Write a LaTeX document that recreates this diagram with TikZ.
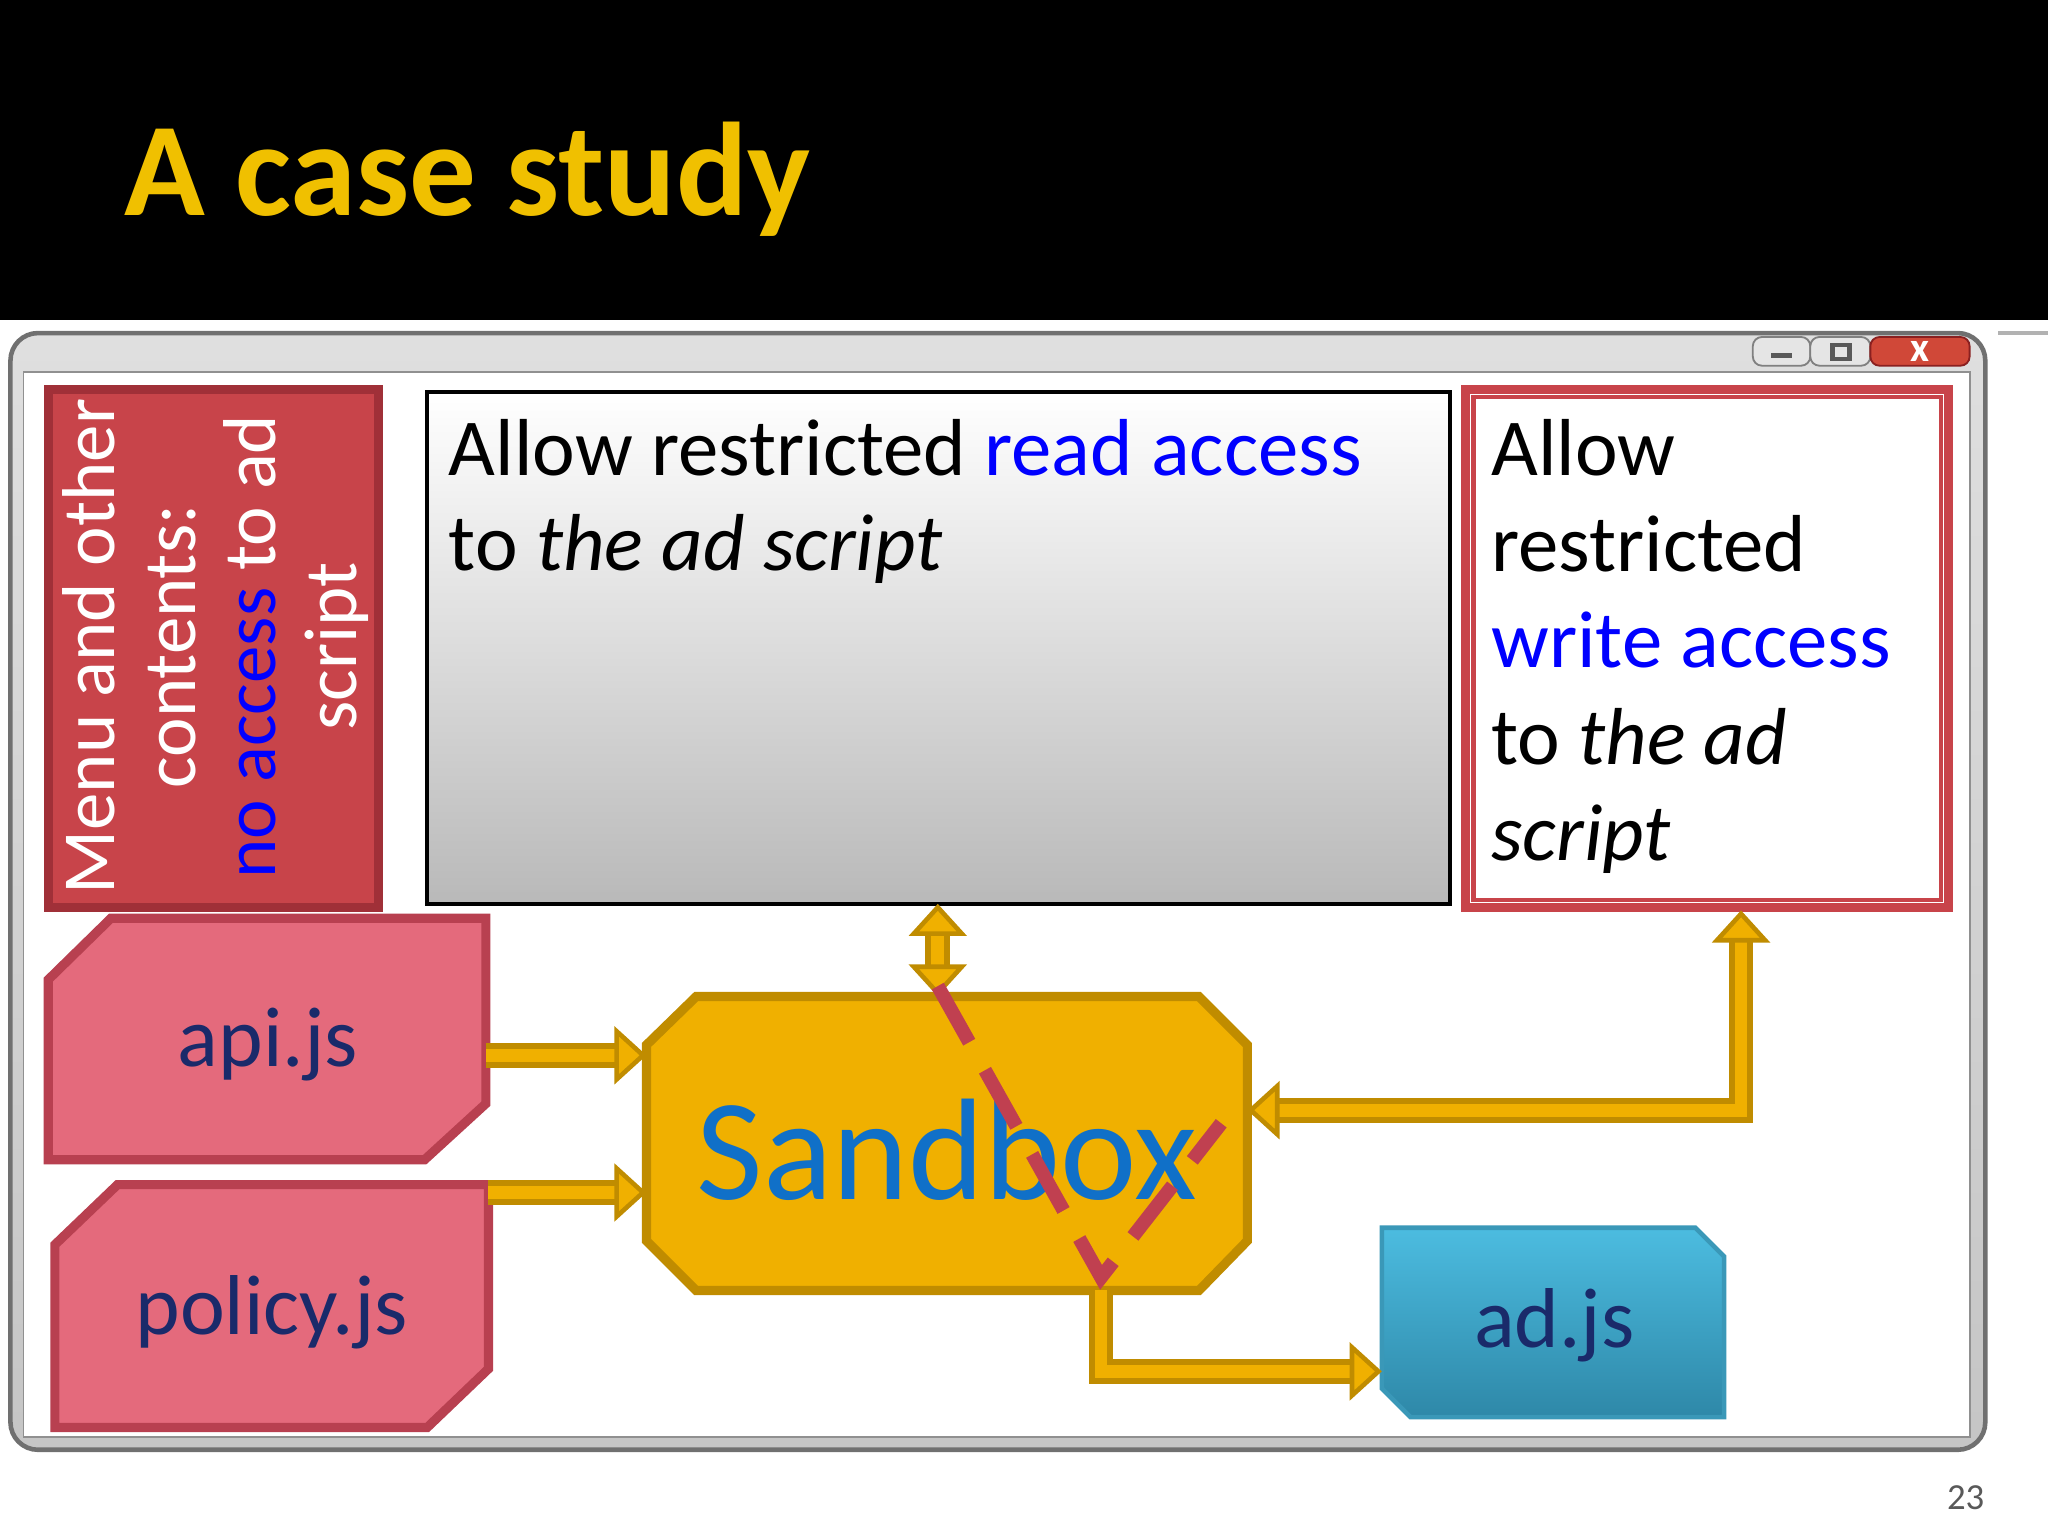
\documentclass[tikz,border=0pt]{standalone}
\usepackage{fontspec}
\setmainfont{Carlito}
\usetikzlibrary{arrows.meta}
\definecolor{gold}{HTML}{F0B000}
\definecolor{golddk}{HTML}{C08C00}
\definecolor{redbox}{HTML}{C8444A}
\definecolor{reddk}{HTML}{A03038}
\definecolor{pinkbox}{HTML}{E46A7C}
\definecolor{pinkdk}{HTML}{B84050}
\definecolor{navy}{HTML}{1A2A6A}
\definecolor{sblue}{HTML}{1070C8}
\definecolor{titley}{HTML}{F0C000}
\definecolor{frame}{HTML}{707070}
\definecolor{inner}{HTML}{909090}
\definecolor{closedk}{HTML}{8A2020}
\definecolor{closebg}{HTML}{D04838}
\definecolor{adb}{HTML}{3A98B8}
\definecolor{adt}{HTML}{4CBCE0}
\definecolor{adbt}{HTML}{2E88A8}
\definecolor{dashred}{HTML}{C04050}
\begin{document}
\begin{tikzpicture}[x=0.01cm,y=-0.01cm,
  tip/.tip={Triangle[length=7pt,width=12.5pt,fill=gold,line width=1pt]},
  garrow/.style={draw=golddk,line width=1.3pt,double=gold,double distance=2.8pt,tip-tip},
  sarrow/.style={draw=golddk,line width=1.3pt,double=gold,double distance=2.8pt,-tip},
  btxt/.style={font=\fontsize{17.6}{20.8}\selectfont,align=left,anchor=north west,inner sep=0},
  ftxt/.style={font=\fontsize{18.5}{22}\selectfont,text=navy}]
\useasboundingbox (0,0) rectangle (1568,1176);
\fill[white] (0,0) rectangle (1568,1176);
\fill[black] (0,0) rectangle (1568,245);
\node[anchor=base west,inner sep=0,text=titley,font=\bfseries\fontsize{29}{30}\selectfont] (title) at (95,165) {A case study};
% window
\draw[frame,line width=1pt,top color=gray!25,bottom color=gray!45,rounded corners=6] (8,255) rectangle (1520,1110);
\draw[inner,fill=white] (18,285) rectangle (1508,1100);
\draw[gray!60,line width=1pt] (1530,255) -- (1568,255);
\draw[gray,fill=gray!20,rounded corners=2] (1342,258) rectangle (1386,280);
\draw[gray,fill=gray!20,rounded corners=2] (1386,258) rectangle (1432,280);
\draw[closedk,fill=closebg,rounded corners=2] (1432,258) rectangle (1508,280);
\draw[gray!70!black,line width=1.2pt] (1356,272) -- (1372,272);
\draw[gray!70!black,line width=1pt] (1403,264) rectangle (1416,275);
\node[text=white,font=\bfseries\fontsize{9}{9}\selectfont,inner sep=0] (xb) at (1470,269) {x};
% red box
\draw[reddk,line width=2pt,fill=redbox] (37,298) rectangle (290,695);
\node[rotate=90,align=center,text=white,font=\fontsize{16.3}{17.6}\selectfont,inner sep=0] (menu) at (165,495)
 {Menu and other\\contents:\\\textcolor{blue}{no access} to ad\\script};
% gray box
\draw[black,line width=1pt,top color=white,bottom color=gray!55] (327,300) rectangle (1110,692);
\coordinate (gb) at (718,692);
\node[btxt] (rd) at (343,320) {Allow restricted \textcolor{blue}{read access}\\to \textit{the ad script}};
% right box
\draw[redbox,line width=2pt,fill=white] (1122,298) rectangle (1492,695);
\draw[redbox,line width=1pt] (1128,304) rectangle (1486,689);
\coordinate (rb) at (1333,697);
\node[btxt,font=\fontsize{17.6}{21}\selectfont] (wr) at (1141,320) {Allow\\restricted\\\textcolor{blue}{write access}\\to \textit{the ad}\\\textit{script}};
% api
\draw[pinkdk,line width=2pt,fill=pinkbox] (85,703) -- (372,703) -- (372,845) -- (325,888) -- (37,888) -- (37,750) -- cycle;
\node[ftxt] (api) at (205,800) {api.js};
\coordinate (apir) at (372,808);
\draw[pinkdk,line width=2pt,fill=pinkbox] (90,907) -- (374,907) -- (374,1048) -- (327,1093) -- (42,1093) -- (42,953) -- cycle;
\node[ftxt] (pol) at (208,1005) {policy.js};
\coordinate (polr) at (374,913);
% sandbox
\draw[golddk,line width=2pt,fill=gold] (533,763) -- (918,763) -- (955,800) -- (955,950) -- (918,988) -- (533,988) -- (495,950) -- (495,800) -- cycle;
\node[text=sblue,font=\fontsize{31.5}{34}\selectfont] (sb) at (725,880) {Sandbox};
\coordinate (sbt) at (718,763);
\coordinate (sbr) at (955,850);
\coordinate (sbb) at (843,988);
\coordinate (sbl1) at (495,808);
\coordinate (sbl2) at (495,913);
% ad.js
\draw[adb,line width=1pt,top color=adt,bottom color=adbt] (1058,940) -- (1298,940) -- (1320,962) -- (1320,1085) -- (1080,1085) -- (1058,1063) -- cycle;
\node[ftxt] (ad) at (1190,1015) {ad.js};
\coordinate (adl) at (1058,1050);
% arrows
\draw[sarrow] (apir) -- (sbl1);
\draw[sarrow] (polr) -- (sbl2);
\draw[garrow] (gb) -- (sbt);
\draw[garrow] (sbr) -- (rb |- sbr) -- (rb);
\draw[sarrow] (sbb) -- (843,1050) -- (adl);
% dashed red
\draw[dashred,line width=3pt,dash pattern=on 14pt off 7pt] (718,755) -- (843,978) -- (935,860);
\node[text=gray!70!black,font=\fontsize{8}{9}\selectfont] (pg) at (1505,1147) {23};
\end{tikzpicture}
\end{document}
